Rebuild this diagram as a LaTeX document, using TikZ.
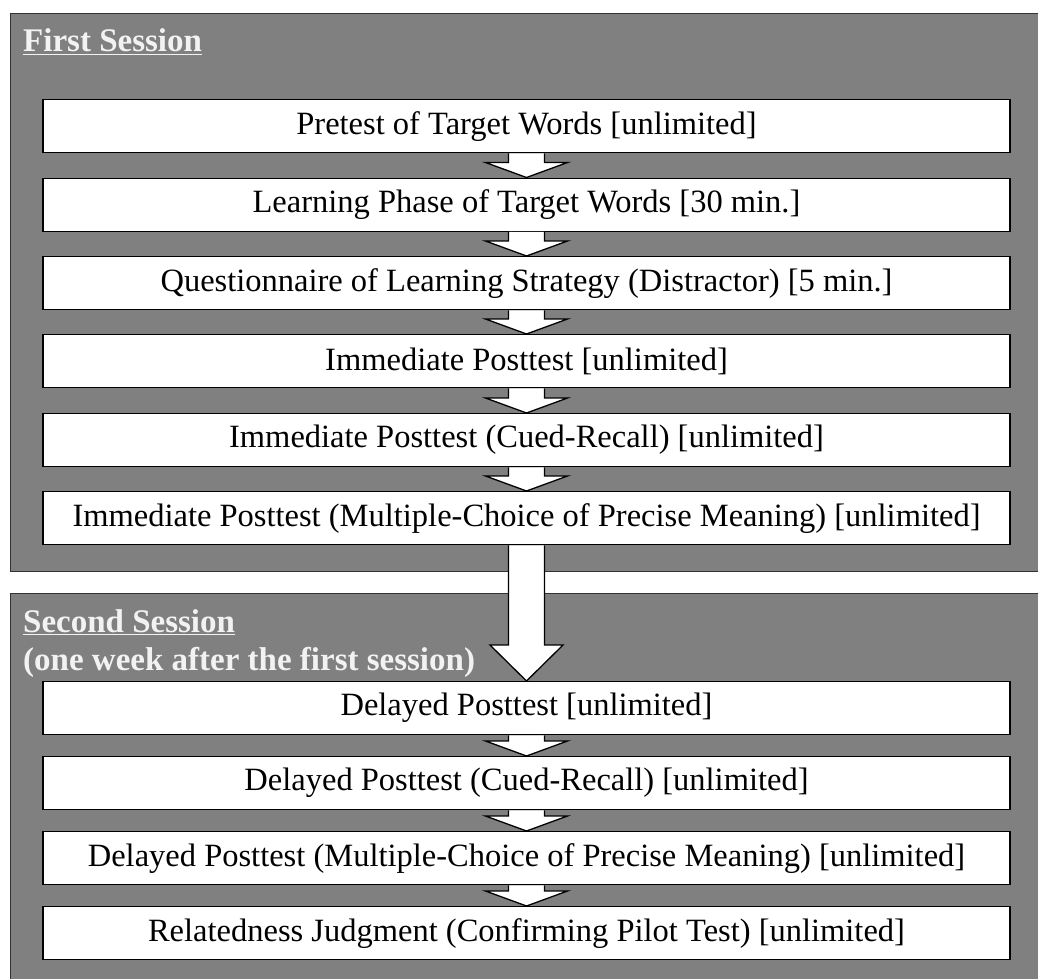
\documentclass[tikz,border=0pt]{standalone}
\usepackage{fontspec}
\setmainfont{Liberation Serif}
\usetikzlibrary{calc}

\definecolor{panelgray}{RGB}{128,128,128}
\definecolor{titlewhite}{RGB}{242,242,242}

% block arrow from the bottom of #1 to the top of #2, head half width #3, head length #4
\newcommand{\blockarrow}[4]{%
\draw[black, fill=white, line width=1.3pt, line join=miter, xshift=3.5pt]
    ($(#1.south)+(-18,0)$) -- ($(#2.north)+(-18,-#4)$) -- ($(#2.north)+(-#3,-#4)$)
    -- (#2.north) -- ($(#2.north)+(#3,-#4)$) -- ($(#2.north)+(18,-#4)$)
    -- ($(#1.south)+(18,0)$);
}

\begin{document}
\begin{tikzpicture}[x=1pt, y=-1pt,
    stepbox/.style={draw=black, fill=white, line width=1.3pt, minimum width=967pt,
        minimum height=53pt, inner sep=0pt, anchor=north,
        font=\fontsize{32.5}{38}\selectfont},
    sessiontitle/.style={anchor=base west, inner sep=0pt, text=titlewhite, align=left,
        font=\fontsize{33}{38}\selectfont\bfseries}]

\useasboundingbox (0,0) rectangle (1038,979);
\clip (0,0) rectangle (1038,979);

% draw panels
\draw[fill=panelgray, draw=black!80, line width=0.9pt] (10,13) rectangle (1060,571);
\draw[fill=panelgray, draw=black!80, line width=0.9pt] (10,593) rectangle (1060,1000);

\node[sessiontitle] (first) at (23,52) {\underline{First Session}};
\node[sessiontitle] (second) at (23,670) {\underline{Second Session}\\(one week after the first session)};

% first session
\node[stepbox] (pre)   at (526.5,99)  {Pretest of Target Words [unlimited]};
\node[stepbox] (learn) at (526.5,177.5) {Learning Phase of Target Words [30 min.]};
\node[stepbox] (quest) at (526.5,256) {Questionnaire of Learning Strategy (Distractor) [5 min.]};
\node[stepbox] (imm)   at (526.5,334) {Immediate Posttest [unlimited]};
\node[stepbox] (immcr) at (526.5,413) {Immediate Posttest (Cued-Recall) [unlimited]};
\node[stepbox] (immmc) at (526.5,491) {Immediate Posttest (Multiple-Choice of Precise Meaning) [unlimited]};

% second session
\node[stepbox] (del)   at (526.5,681) {Delayed Posttest [unlimited]};
\node[stepbox] (delcr) at (526.5,756) {Delayed Posttest (Cued-Recall) [unlimited]};
\node[stepbox] (delmc) at (526.5,831) {Delayed Posttest (Multiple-Choice of Precise Meaning) [unlimited]};
\node[stepbox] (rel)   at (526.5,906) {Relatedness Judgment (Confirming Pilot Test) [unlimited]};

% arrows
\blockarrow{pre}{learn}{41}{15}
\blockarrow{learn}{quest}{41}{15}
\blockarrow{quest}{imm}{41}{15}
\blockarrow{imm}{immcr}{41}{15}
\blockarrow{immcr}{immmc}{41}{15}
\blockarrow{immmc}{del}{36.5}{36}
\blockarrow{del}{delcr}{41}{15}
\blockarrow{delcr}{delmc}{41}{15}
\blockarrow{delmc}{rel}{41}{15}

\end{tikzpicture}
\end{document}
